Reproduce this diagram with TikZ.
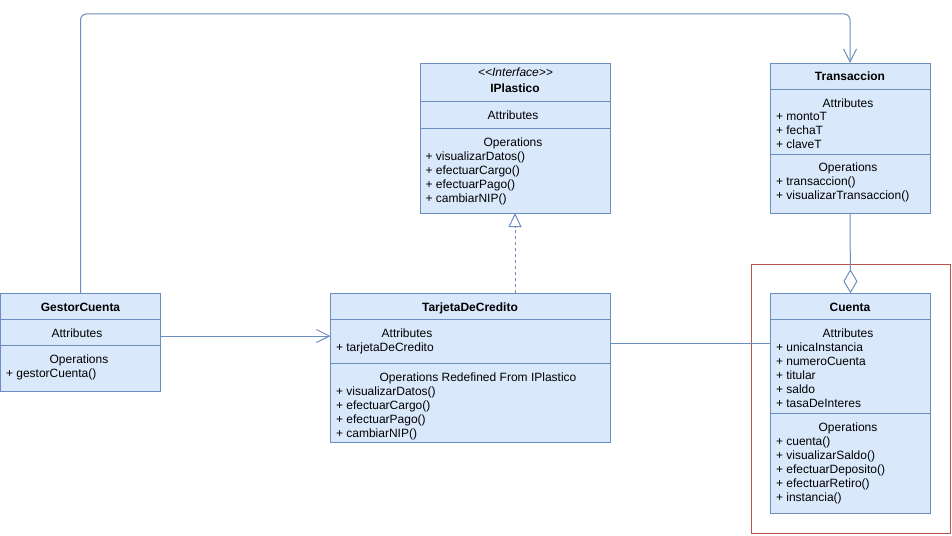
\documentclass[tikz,border=0pt]{standalone}
\usepackage{fontspec}
\setmainfont{Liberation Sans}
\usetikzlibrary{arrows.meta}
\definecolor{boxfill}{HTML}{DAE8FC}
\definecolor{boxline}{HTML}{6C8EBF}
\definecolor{redline}{HTML}{B85450}
\newcommand{\umlrows}[1]{\begin{tabular}[t]{@{}l@{}}#1\end{tabular}}
\begin{document}
\begin{tikzpicture}[x=1pt,y=-1pt,
  every node/.style={inner sep=0pt, outer sep=0pt, font=\fontsize{12}{14}\selectfont},
  classbox/.style={draw=boxline, fill=boxfill, line width=1pt, anchor=north west},
  sepline/.style={draw=boxline, line width=1pt},
  hdr/.style={anchor=base},
  items/.style={anchor=base west},
  ttl/.style={anchor=base, font=\fontsize{12}{14}\selectfont\bfseries},
  conn/.style={draw=boxline, line width=1pt},
  openarrow/.style={-{Straight Barb[length=13pt,width=13pt]}},
]
\useasboundingbox (0,0) rectangle (952,535);

% group frame
\node[draw=redline, line width=1pt, anchor=north west, minimum width=199pt, minimum height=269pt] (grp) at (751,264) {};

% IPlastico
\node[classbox, minimum width=190pt, minimum height=150pt] (ipl) at (420,63) {};
\draw[sepline] (420,101.7) -- (610,101.7);
\draw[sepline] (420,128.3) -- (610,128.3);
\node[hdr, font=\fontsize{12}{14}\selectfont\itshape] (iplst) at (515.5,76.6) {<\kern0pt<Interface>\kern0pt>};
\node[ttl] (iplt) at (515,92.6) {IPlastico};
\node[hdr] (iplat) at (513,119.3) {Attributes};
\node[hdr] (iplop) at (513,146.6) {Operations};
\node[items] (ipll) at (425.5,160.6) {\umlrows{+ visualizarDatos()\\+ efectuarCargo()\\+ efectuarPago()\\+ cambiarNIP()}};

% Transaccion
\node[classbox, minimum width=160pt, minimum height=150pt] (tra) at (770,63) {};
\draw[sepline] (770,89.3) -- (930,89.3);
\draw[sepline] (770,154) -- (930,154);
\node[ttl] (trat) at (850,81) {Transaccion};
\node[hdr] (traat) at (848,107) {Attributes};
\node[items] (traal) at (776,120.3) {\umlrows{+ montoT\\+ fechaT\\+ claveT}};
\node[hdr] (traop) at (848,171) {Operations};
\node[items] (traol) at (776,185) {\umlrows{+ transaccion()\\+ visualizarTransaccion()}};

% GestorCuenta
\node[classbox, minimum width=160pt, minimum height=98.4pt] (gc) at (0.5,293.3) {};
\draw[sepline] (0.5,319) -- (160.5,319);
\draw[sepline] (0.5,345.7) -- (160.5,345.7);
\node[ttl] (gct) at (80.5,311) {GestorCuenta};
\node[hdr] (gcat) at (77,337) {Attributes};
\node[hdr] (gcop) at (79,363.4) {Operations};
\node[items] (gcol) at (6,377.6) {\umlrows{+ gestorCuenta()}};

% TarjetaDeCredito
\node[classbox, minimum width=280pt, minimum height=149pt] (tdc) at (330.5,293.3) {};
\draw[sepline] (330.5,319.3) -- (610.5,319.3);
\draw[sepline] (330.5,363.6) -- (610.5,363.6);
\node[ttl] (tdct) at (470,311) {TarjetaDeCredito};
\node[hdr] (tdcat) at (407,337) {Attributes};
\node[items] (tdcal) at (336,351) {\umlrows{+ tarjetaDeCredito}};
\node[hdr] (tdcop) at (478,381) {Operations Redefined From IPlastico};
\node[items] (tdcol) at (336,395) {\umlrows{+ visualizarDatos()\\+ efectuarCargo()\\+ efectuarPago()\\+ cambiarNIP()}};

% Cuenta
\node[classbox, minimum width=160pt, minimum height=220pt] (cu) at (770.5,293.3) {};
\draw[sepline] (770.5,319) -- (930.5,319);
\draw[sepline] (770.5,413.3) -- (930.5,413.3);
\node[ttl] (cut) at (850,311) {Cuenta};
\node[hdr] (cuat) at (848,337) {Attributes};
\node[items] (cual) at (776,351) {\umlrows{+ unicaInstancia\\+ numeroCuenta\\+ titular\\+ saldo\\+ tasaDeInteres}};
\node[hdr] (cuop) at (848,431) {Operations};
\node[items] (cuol) at (776,445) {\umlrows{+ cuenta()\\+ visualizarSaldo()\\+ efectuarDeposito()\\+ efectuarRetiro()\\+ instancia()}};

% connectors
\coordinate (topleft) at (80.5,14);
\coordinate (topright) at (850,14);
\draw[conn, openarrow, rounded corners=6pt] (gc.north) -- (topleft) -- (topright) -- (tra.north);
\draw[conn, openarrow] (gc.east |- 0,336) -- (tdc.west |- 0,336);
\draw[conn, dash pattern=on 3pt off 3pt, -{Triangle[fill=white,length=14pt,width=13pt]}] (ipl.south |- tdc.north) -- (ipl.south);
\draw[conn, -{Diamond[fill=white,length=24pt,width=14pt]}] (tra.south) -- (cu.north);
\draw[conn] (tdc.east |- 0,343.3) -- (cu.west |- 0,343.3);
\end{tikzpicture}
\end{document}
